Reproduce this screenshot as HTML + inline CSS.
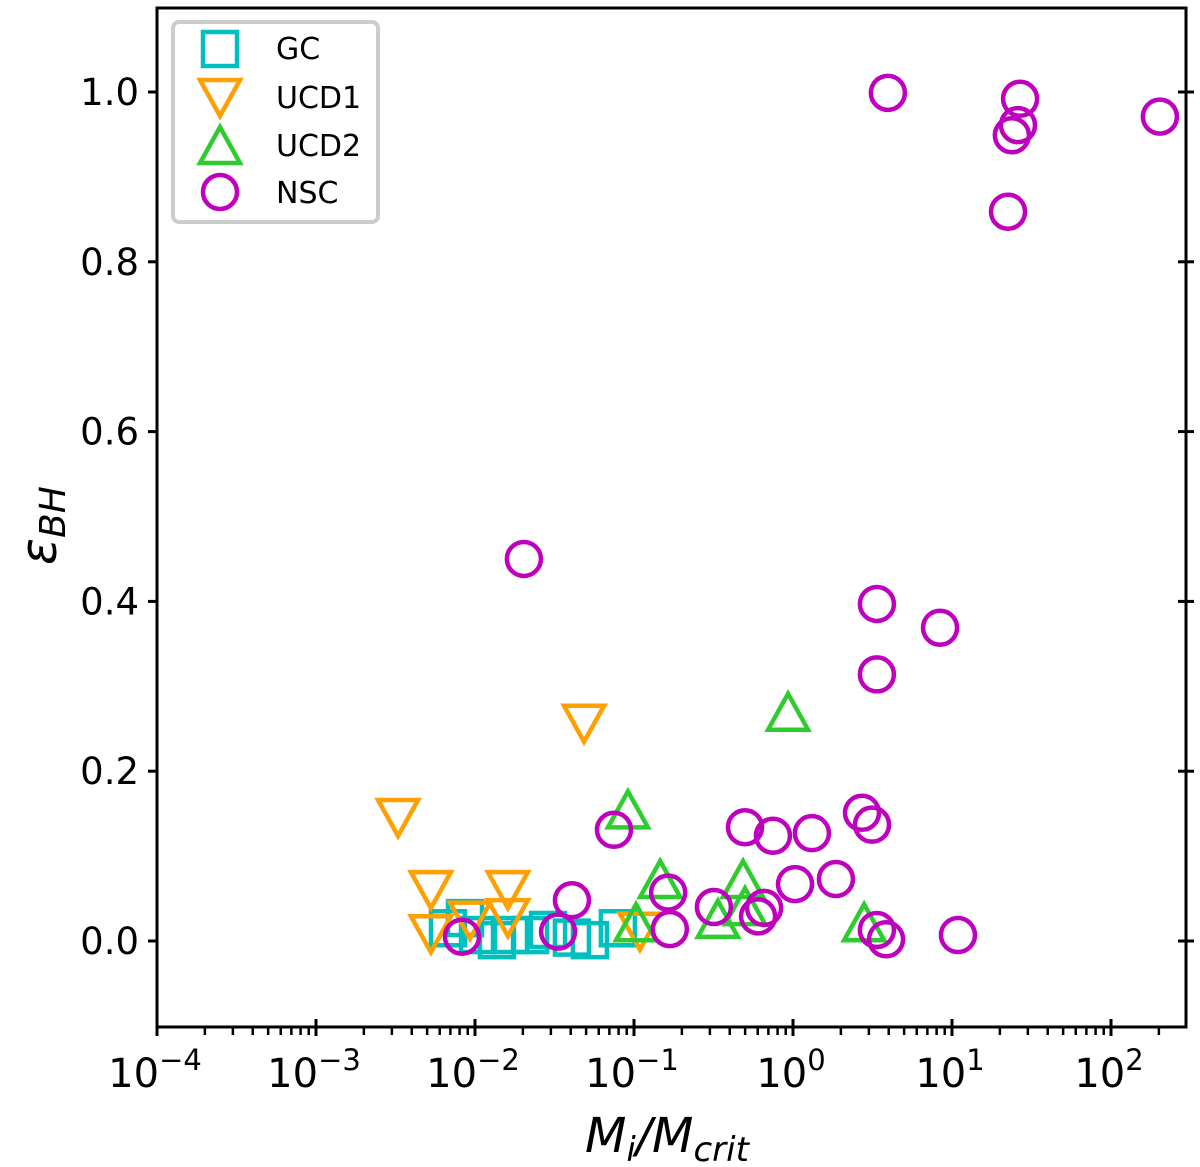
<!DOCTYPE html>
<html><head><meta charset="utf-8"><style>
html,body{margin:0;padding:0;background:#fff;}
svg{display:block;font-family:"DejaVu Sans","Liberation Sans",sans-serif;}
</style></head><body>
<svg id="chart" width="1200" height="1167" viewBox="0 0 1200 1167" xmlns="http://www.w3.org/2000/svg">
<g id="plot"></g>
<g id="axes"></g>
<g id="legend">
<rect x="173" y="22" width="205" height="200" rx="6" fill="#fff" stroke="#cccccc" stroke-width="4"/>
<rect x="203" y="32" width="34" height="34" fill="none" stroke="#00bfbf" stroke-width="4.5"/>
<text x="276" y="59" font-size="30">GC</text>
<polygon points="200,80 240,80 220,116" fill="none" stroke="#ff9f00" stroke-width="4.5"/>
<text x="276" y="108" font-size="30">UCD1</text>
<polygon points="200,163 240,163 220,127" fill="none" stroke="#2ecc2e" stroke-width="4.5"/>
<text x="276" y="156" font-size="30">UCD2</text>
<circle cx="220" cy="192" r="17" fill="none" stroke="#bf00bf" stroke-width="4.5"/>
<text x="276" y="203" font-size="30">NSC</text>
</g>
<text x="0" y="0" font-size="50" font-style="italic" transform="translate(56,565) rotate(-90)">ε<tspan font-size="36" dy="9">BH</tspan></text>
<text x="585" y="1152" font-size="48" font-style="italic">M<tspan font-size="34" dy="9">i</tspan><tspan dy="-9">/M</tspan><tspan font-size="34" dy="9">crit</tspan></text>
</svg>
<script>
const gcX=[0.00676,0.00865,0.01045,0.01374,0.0166,0.0222,0.0288,0.0407,0.0528,0.0792];
const gcY=[0.015,0.027,0.007,0.001,0.007,0.007,0.013,0.004,0.001,0.015];
const ucd1X=[0.00328,0.00528,0.00528,0.0161,0.0161,0.00931,0.0485,0.109];
const ucd1Y=[0.152,0.067,0.015,0.067,0.034,0.031,0.263,0.018];
const ucd2X=[0.0916,0.146,0.103,0.337,0.485,0.499,0.931,2.80];
const ucd2Y=[0.148,0.066,0.015,0.019,0.066,0.034,0.263,0.015];
const nscX=[3.95,26.8,26.0,23.8,22.5,203,0.0203,3.37,8.41,3.37,0.0748,0.0407,0.00828,0.0333,0.164,0.168,0.318,0.603,0.658,0.499,0.748,1.315,1.03,1.862,2.716,3.14,3.37,3.85,10.9];
const nscY=[0.999,0.992,0.961,0.949,0.859,0.971,0.450,0.397,0.369,0.314,0.131,0.048,0.005,0.011,0.057,0.014,0.040,0.029,0.039,0.134,0.124,0.127,0.067,0.073,0.151,0.137,0.013,0.002,0.007];
const yTicks=[0.0,0.2,0.4,0.6,0.8,1.0];
const yTickLabels=["0.0","0.2","0.4","0.6","0.8","1.0"];
const xDecades=[-4,-3,-2,-1,0,1,2];

const L=157,R=1186,T=8,B=1027;
const xs=v=>L+(Math.log10(v)+4)*159;
const ys=v=>941-v*849;
const NS="http://www.w3.org/2000/svg";
function mk(tag,at,parent){const e=document.createElementNS(NS,tag);for(const k in at)e.setAttribute(k,at[k]);parent.appendChild(e);return e;}
const plot=document.getElementById('plot'),axes=document.getElementById('axes');
const sw=4.5;
gcX.forEach((x,i)=>{const cx=xs(x),cy=ys(gcY[i]);
 const e=mk('rect',{x:cx-17,y:cy-17,width:34,height:34,fill:'none',stroke:'#00bfbf','stroke-width':sw},plot);
 
 });
ucd1X.forEach((x,i)=>{const cx=xs(x),cy=ys(ucd1Y[i]);
 const e=mk('polygon',{points:`${cx-20},${cy-12} ${cx+20},${cy-12} ${cx},${cy+24}`,fill:'none',stroke:'#ff9f00','stroke-width':sw},plot);
 
 });
ucd2X.forEach((x,i)=>{const cx=xs(x),cy=ys(ucd2Y[i]);
 const e=mk('polygon',{points:`${cx-20},${cy+12} ${cx+20},${cy+12} ${cx},${cy-24}`,fill:'none',stroke:'#2ecc2e','stroke-width':sw},plot);
 
 });
nscX.forEach((x,i)=>{const e=mk('circle',{cx:xs(x),cy:ys(nscY[i]),r:17,fill:'none',stroke:'#bf00bf','stroke-width':sw},plot);
 
 });

const frame=mk('rect',{x:L,y:T,width:R-L,height:B-T,fill:'none',stroke:'#000','stroke-width':3},axes);


yTicks.forEach((v,i)=>{const y=ys(v);
 mk('line',{x1:L-9,x2:L,y1:y,y2:y,stroke:'#000','stroke-width':3},axes);
 mk('line',{x1:R-8,x2:R+8,y1:y,y2:y,stroke:'#000','stroke-width':3},axes);
 const t=mk('text',{x:L-18,y:y+13,'font-size':37,'text-anchor':'end'},axes);t.textContent=yTickLabels[i];
 
 });
xDecades.forEach(d=>{const x=xs(Math.pow(10,d));
 mk('line',{x1:x,x2:x,y1:B-8,y2:B+9,stroke:'#000','stroke-width':3},axes);
 for(let m=2;m<10;m++){const xm=xs(m*Math.pow(10,d)); if(xm<R) mk('line',{x1:xm,x2:xm,y1:B,y2:B+8,stroke:'#000','stroke-width':2.5},axes);}
 const t=mk('text',{x:x-2,y:1087,'font-size':40,'text-anchor':'middle'},axes);
 t.innerHTML=`10<tspan dy="-17" font-size="29">${d<0?'\u2212'+(-d):d}</tspan>`;
 
 });
</script>
</body></html>
